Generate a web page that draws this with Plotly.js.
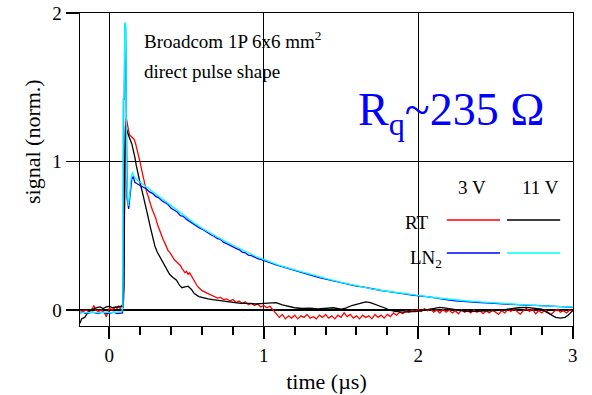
<!DOCTYPE html>
<html>
<head>
<meta charset="utf-8">
<script src="https://cdn.plot.ly/plotly-3.0.1.min.js"></script>
<style>html,body{margin:0;padding:0;background:#fff;}#chart{width:592px;height:395px;}</style>
</head>
<body>
<div id="chart"></div>
<script>
// ---- data ----
const seriesNames = ["RT 3 V", "RT 11 V", "LN2 3 V", "LN2 11 V"];
const xTickVals = [0, 1, 2, 3];
const yTickVals = [0, 1, 2];

const rt3_t = [-0.19,-0.17,-0.15,-0.13,-0.11,-0.10,-0.09,-0.07,-0.05,-0.03,-0.02,-0.01,0.00,0.02,0.04,0.05,0.06,0.07,0.08,0.09,0.095,0.10,0.105,0.11,0.12,0.13,0.14,0.15,0.16,0.17,0.18,0.19,0.20,0.21,0.22,0.23,0.24,0.25,0.26,0.27,0.28,0.29,0.30,0.31,0.32,0.33,0.34,0.35,0.36,0.37,0.38,0.39,0.40,0.41,0.42,0.43,0.44,0.45,0.46,0.47,0.48,0.49,0.50,0.51,0.52,0.53,0.54,0.55,0.56,0.57,0.58,0.59,0.60,0.62,0.64,0.66,0.68,0.70,0.72,0.74,0.76,0.78,0.80,0.82,0.84,0.86,0.88,0.90,0.92,0.94,0.96,0.98,1.00,1.02,1.04,1.06,1.08,1.10,1.12,1.14,1.16,1.18,1.20,1.22,1.24,1.26,1.28,1.30,1.32,1.34,1.36,1.38,1.40,1.42,1.44,1.46,1.48,1.50,1.52,1.54,1.56,1.58,1.60,1.62,1.64,1.66,1.68,1.70,1.72,1.74,1.76,1.78,1.80,1.82,1.84,1.86,1.88,1.90,1.92,1.94,1.96,1.98,2.00,2.02,2.04,2.06,2.08,2.10,2.12,2.14,2.16,2.18,2.20,2.22,2.24,2.26,2.28,2.30,2.32,2.34,2.36,2.38,2.40,2.42,2.44,2.46,2.48,2.50,2.52,2.54,2.56,2.58,2.60,2.62,2.64,2.66,2.68,2.70,2.72,2.74,2.76,2.78,2.80,2.82,2.84,2.86,2.88,2.90,2.92,2.94,2.96,2.98,3.00];
const rt3_v = [-0.005,-0.01,0.0,-0.015,0.01,0.03,0.0,-0.01,0.0,-0.02,-0.045,-0.01,0.01,0.0,0.02,0.01,0.025,0.01,0.03,0.02,0.5,1.1,1.25,1.29,1.22,1.18,1.17,1.16,1.15,1.12,1.08,1.04,0.99,0.94,0.89,0.85,0.80,0.77,0.73,0.70,0.67,0.65,0.62,0.58,0.55,0.52,0.49,0.47,0.45,0.42,0.40,0.39,0.37,0.36,0.34,0.33,0.32,0.31,0.30,0.28,0.26,0.25,0.26,0.24,0.25,0.23,0.21,0.19,0.18,0.16,0.15,0.14,0.13,0.12,0.11,0.10,0.09,0.08,0.085,0.07,0.075,0.06,0.07,0.05,0.06,0.045,0.055,0.035,0.045,0.03,0.04,0.02,0.03,0.015,0.025,0.0,-0.02,-0.05,-0.03,-0.06,-0.04,-0.055,-0.035,-0.06,-0.04,-0.05,-0.03,-0.055,-0.045,-0.06,-0.035,-0.05,-0.03,-0.055,-0.04,-0.06,-0.035,-0.05,-0.02,-0.045,-0.03,-0.055,-0.04,-0.06,-0.035,-0.05,-0.04,-0.06,-0.03,-0.05,-0.035,-0.055,-0.03,-0.045,-0.02,-0.035,-0.015,-0.025,-0.005,-0.015,0.0,-0.01,0.005,-0.01,0.01,-0.005,0.005,-0.015,0.0,-0.02,0.005,-0.015,0.0,-0.02,-0.005,-0.025,0.0,-0.015,-0.005,-0.02,0.0,-0.015,-0.005,-0.025,-0.005,-0.02,0.0,-0.015,-0.03,-0.005,-0.02,0.005,-0.01,0.01,-0.01,-0.03,-0.005,0.01,-0.01,0.005,-0.025,-0.005,-0.02,0.0,-0.015,-0.03,-0.01,0.005,-0.015,-0.005,-0.02,0.0,-0.01];

const rt11_t = [-0.19,-0.18,-0.16,-0.14,-0.12,-0.10,-0.08,-0.06,-0.04,-0.02,0.00,0.02,0.04,0.06,0.08,0.09,0.095,0.10,0.105,0.11,0.12,0.13,0.145,0.155,0.165,0.175,0.187,0.20,0.21,0.22,0.235,0.25,0.265,0.28,0.295,0.31,0.33,0.35,0.37,0.39,0.41,0.435,0.455,0.47,0.49,0.51,0.53,0.55,0.58,0.61,0.64,0.67,0.70,0.73,0.76,0.80,0.85,0.90,0.95,1.00,1.04,1.08,1.12,1.16,1.20,1.25,1.30,1.35,1.40,1.45,1.50,1.53,1.57,1.60,1.63,1.66,1.69,1.72,1.75,1.78,1.81,1.85,1.90,1.95,2.00,2.05,2.10,2.14,2.18,2.22,2.26,2.30,2.35,2.40,2.45,2.50,2.55,2.60,2.65,2.70,2.75,2.80,2.83,2.86,2.89,2.92,2.95,2.97,3.00];
const rt11_v = [-0.09,-0.06,-0.05,-0.02,0.0,0.01,0.015,0.02,0.01,0.02,0.025,0.015,0.02,0.02,0.025,0.02,0.16,1.0,1.24,1.22,1.18,1.16,1.12,1.08,1.03,0.97,0.90,0.85,0.81,0.77,0.70,0.63,0.56,0.49,0.43,0.39,0.35,0.31,0.27,0.24,0.22,0.20,0.165,0.15,0.155,0.16,0.14,0.11,0.09,0.08,0.075,0.07,0.065,0.06,0.055,0.05,0.045,0.045,0.04,0.045,0.05,0.05,0.035,0.025,0.015,0.01,0.012,0.008,0.012,0.015,0.005,0.012,0.03,0.04,0.05,0.055,0.05,0.04,0.03,0.015,0.0,-0.01,-0.015,-0.015,-0.01,0.0,0.012,0.018,0.012,0.006,0.0,-0.008,-0.01,-0.008,-0.01,-0.005,0.0,0.01,0.015,0.018,0.012,0.005,-0.015,-0.035,-0.05,-0.055,-0.05,-0.035,-0.005];

const ln3_t = [-0.19,-0.17,-0.15,-0.13,-0.11,-0.09,-0.07,-0.05,-0.03,-0.01,0.01,0.03,0.05,0.07,0.085,0.09,0.092,0.097,0.10,0.105,0.11,0.115,0.125,0.135,0.145,0.155,0.165,0.18,0.20,0.22,0.24,0.26,0.28,0.30,0.32,0.34,0.36,0.38,0.40,0.42,0.44,0.46,0.48,0.50,0.52,0.54,0.56,0.58,0.60,0.62,0.64,0.66,0.68,0.70,0.72,0.74,0.76,0.78,0.80,0.82,0.84,0.86,0.88,0.90,0.92,0.94,0.96,0.98,1.00,1.04,1.08,1.12,1.16,1.20,1.24,1.28,1.32,1.36,1.40,1.44,1.48,1.52,1.56,1.60,1.64,1.68,1.72,1.76,1.80,1.84,1.88,1.92,1.96,2.00,2.04,2.08,2.12,2.16,2.20,2.24,2.28,2.32,2.36,2.40,2.44,2.48,2.52,2.56,2.60,2.64,2.68,2.72,2.76,2.80,2.84,2.88,2.92,2.96,3.00];
const ln3_v = [-0.02,-0.015,-0.025,-0.02,-0.015,-0.02,-0.025,-0.015,-0.02,-0.025,-0.02,-0.015,-0.025,-0.02,-0.02,0.29,1.42,1.42,1.93,1.90,1.2,0.75,0.68,0.80,0.88,0.90,0.86,0.85,0.84,0.825,0.815,0.795,0.785,0.765,0.755,0.735,0.72,0.71,0.685,0.675,0.66,0.635,0.63,0.61,0.595,0.58,0.57,0.555,0.545,0.53,0.52,0.505,0.495,0.48,0.475,0.455,0.447,0.435,0.427,0.415,0.407,0.39,0.385,0.37,0.366,0.355,0.346,0.34,0.334,0.318,0.303,0.29,0.278,0.264,0.253,0.24,0.229,0.218,0.208,0.196,0.186,0.179,0.17,0.16,0.155,0.146,0.137,0.131,0.125,0.117,0.111,0.106,0.1,0.097,0.09,0.086,0.08,0.072,0.066,0.062,0.058,0.055,0.052,0.05,0.048,0.045,0.043,0.04,0.036,0.036,0.032,0.031,0.031,0.028,0.027,0.026,0.023,0.021,0.018];

const ln11_t = [-0.19,-0.15,-0.11,-0.07,-0.03,0.01,0.05,0.08,0.088,0.09,0.096,0.10,0.106,0.112,0.122,0.13,0.14,0.15,0.16,0.18,0.20,0.25,0.30,0.35,0.40,0.45,0.50,0.55,0.60,0.65,0.70,0.75,0.80,0.85,0.90,0.95,1.00,1.10,1.20,1.30,1.40,1.50,1.60,1.70,1.80,1.90,2.00,2.10,2.20,2.30,2.40,2.50,2.60,2.70,2.80,2.90,3.00];
const ln11_v = [-0.015,-0.018,-0.015,-0.02,-0.015,-0.018,-0.015,-0.012,0.02,1.42,1.42,1.93,1.93,0.9,0.70,0.76,0.88,0.93,0.90,0.875,0.86,0.82,0.78,0.74,0.70,0.66,0.62,0.585,0.55,0.52,0.49,0.462,0.436,0.41,0.386,0.36,0.34,0.30,0.27,0.24,0.212,0.186,0.162,0.142,0.126,0.11,0.098,0.084,0.072,0.062,0.054,0.046,0.04,0.034,0.028,0.023,0.019];

const traces = [
  {x: rt3_t,  y: rt3_v,  color: "#ff0000"},
  {x: rt11_t, y: rt11_v, color: "#000000"},
  {x: ln3_t,  y: ln3_v,  color: "#0000ff"},
  {x: ln11_t, y: ln11_v, color: "#00ffff"}
].map((s, i) => ({
  type: "scatter", mode: "lines", name: seriesNames[i],
  x: s.x, y: s.y, line: {color: s.color, width: 1.3}, showlegend: false
}));

const serif = "Liberation Serif, Times New Roman, serif";

const layout = {
  width: 592, height: 395,
  margin: {l: 80, r: 19, t: 13, b: 69},
  font: {family: serif, color: "#000", size: 19},
  xaxis: {
    range: [-0.19, 3.002], tickmode: "linear", tick0: 0, dtick: 1,
    ticks: "outside", ticklen: 12, tickwidth: 2, tickcolor: "#000",
    minor: {dtick: 0.2, tick0: 0, ticks: "outside", ticklen: 8, tickwidth: 2, tickcolor: "#000", showgrid: false},
    showgrid: true, gridcolor: "#000", gridwidth: 1.4, zeroline: false,
    showline: true, mirror: true, linecolor: "#000", linewidth: 1.4,
    tickfont: {size: 19}, title: {text: "time (µs)", font: {size: 22}, standoff: 8}
  },
  yaxis: {
    range: [-0.108, 2.0], tickvals: yTickVals,
    ticks: "outside", ticklen: 13, tickwidth: 1.6, tickcolor: "#000",
    showgrid: true, gridcolor: "#000", gridwidth: 1.4, zeroline: false,
    showline: true, mirror: true, linecolor: "#000", linewidth: 1.4,
    tickfont: {size: 19}
  },
  shapes: [
    {type: "line", xref: "paper", yref: "paper", x0: 0.744, x1: 0.852, y0: 0.339, y1: 0.339, line: {color: "#ff0000", width: 1.5}},
    {type: "line", xref: "paper", yref: "paper", x0: 0.866, x1: 0.974, y0: 0.339, y1: 0.339, line: {color: "#000000", width: 1.5}},
    {type: "line", xref: "paper", yref: "paper", x0: 0.744, x1: 0.852, y0: 0.233, y1: 0.233, line: {color: "#0000ff", width: 1.5}},
    {type: "line", xref: "paper", yref: "paper", x0: 0.866, x1: 0.974, y0: 0.233, y1: 0.233, line: {color: "#00ffff", width: 1.5}}
  ],
  annotations: [
    {text: "Broadcom 1P 6x6 mm<sup>2</sup>", xref: "paper", yref: "paper", x: 0.126, y: 0.914, xanchor: "left", yanchor: "middle", showarrow: false, font: {size: 19}},
    {text: "direct pulse shape", xref: "paper", yref: "paper", x: 0.126, y: 0.812, xanchor: "left", yanchor: "middle", showarrow: false, font: {size: 19}},
    {text: "R<sub>q</sub>~235 Ω", xref: "paper", yref: "paper", x: 0.560, y: 0.680, xanchor: "left", yanchor: "middle", showarrow: false, font: {size: 46, color: "#0000ff"}},
    {text: "3 V", xref: "paper", yref: "paper", x: 0.795, y: 0.441, xanchor: "center", yanchor: "middle", showarrow: false, font: {size: 19}},
    {text: "11 V", xref: "paper", yref: "paper", x: 0.935, y: 0.441, xanchor: "center", yanchor: "middle", showarrow: false, font: {size: 19}},
    {text: "RT", xref: "paper", yref: "paper", x: 0.712, y: 0.332, xanchor: "right", yanchor: "middle", showarrow: false, font: {size: 19}},
    {text: "LN<sub>2</sub>", xref: "paper", yref: "paper", x: 0.665, y: 0.215, xanchor: "left", yanchor: "middle", showarrow: false, font: {size: 19}},
    {text: "signal (norm.)", xref: "paper", yref: "paper", x: -0.0953, y: 0.588, xanchor: "center", yanchor: "middle", textangle: -90, showarrow: false, font: {size: 22}}
  ]
};

Plotly.newPlot("chart", traces, layout, {displayModeBar: false, staticPlot: true});
</script>
</body>
</html>
